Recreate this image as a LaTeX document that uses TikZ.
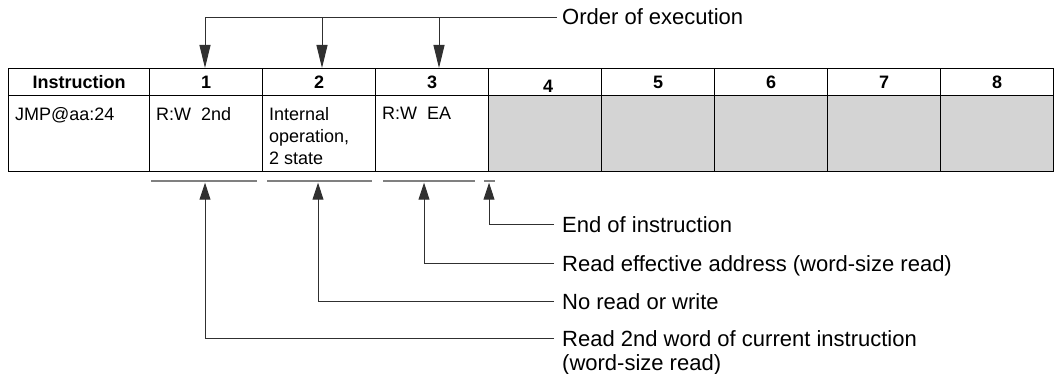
\documentclass[tikz,border=0pt]{standalone}
\usepackage{fontspec}
\setmainfont{Liberation Sans}
\usetikzlibrary{arrows.meta}
\definecolor{shade}{HTML}{D4D4D4}
\definecolor{segcol}{HTML}{808080}
\definecolor{conncol}{HTML}{303030}
\begin{document}
\begin{tikzpicture}[x=1pt,y=-1pt,
  cell/.style={draw=black, line width=1.2pt, inner sep=0pt, anchor=north west,
    minimum width=#1},
  hcell/.style={cell=#1, minimum height=27pt, font=\fontsize{18}{22}\selectfont\bfseries},
  dcell/.style={cell=#1, minimum height=76pt},
  gcell/.style={dcell=#1, fill=shade},
  dtxt/.style={inner sep=0pt, anchor=north west, align=left, font=\fontsize{18}{22}\selectfont},
  lbl/.style={inner sep=0pt, font=\fontsize{22}{24}\selectfont},
  conn/.style={draw=conncol, line width=1pt},
  arrT/.style={conn, -{Triangle[length=23pt,width=11pt]}},
  arrB/.style={conn, -{Triangle[length=17pt,width=11pt]}},
  seg/.style={draw=segcol, line width=1.5pt}
]
\useasboundingbox (0,0) rectangle (1059,374);

% header row
\node[hcell=141pt] (h0) at (8,68) {Instruction};
\node[hcell=113pt] (h1) at (149,68) {1};
\node[hcell=113pt] (h2) at (262,68) {2};
\node[hcell=113pt] (h3) at (375,68) {3};
\node[hcell=113pt] (h4) at (488,68) {};
\node[hcell=113pt] (h5) at (601,68) {5};
\node[hcell=113pt] (h6) at (714,68) {6};
\node[hcell=113pt] (h7) at (827,68) {7};
\node[hcell=113pt] (h8) at (940,68) {8};
\node[inner sep=0pt, font=\fontsize{18}{22}\selectfont\bfseries] (h4t) at ([xshift=3pt,yshift=-4pt]h4.center) {4};

% data row
\node[dcell=141pt] (d0) at (8,95) {};
\node[dcell=113pt] (d1) at (149,95) {};
\node[dcell=113pt] (d2) at (262,95) {};
\node[dcell=113pt] (d3) at (375,95) {};
\node[gcell=113pt] (d4) at (488,95) {};
\node[gcell=113pt] (d5) at (601,95) {};
\node[gcell=113pt] (d6) at (714,95) {};
\node[gcell=113pt] (d7) at (827,95) {};
\node[gcell=113pt] (d8) at (940,95) {};

\node[dtxt] (t0) at ([xshift=7pt,yshift=-12pt]d0.north west) {JMP@aa:24};
\node[dtxt] (t1) at ([xshift=7pt,yshift=-12pt]d1.north west) {R:W\ \ 2nd};
\node[dtxt] (t2) at ([xshift=7pt,yshift=-12pt]d2.north west) {Internal\\operation,\\2 state};
\node[dtxt] (t3) at ([xshift=7pt,yshift=-12pt]d3.north west) {R:W\ \ EA};

% order of execution
\node[lbl, anchor=base west] (ord) at (562,25) {Order of execution};
\coordinate (o0) at (557,17.3);
\coordinate (o1) at (205,17.3);
\coordinate (o2) at (322,17.3);
\coordinate (o3) at (439,17.3);
\draw[conn] (o0) -- (o1);
\draw[arrT] (o1) -- (o1 |- h1.north);
\draw[arrT] (o2) -- (o2 |- h2.north);
\draw[arrT] (o3) -- (o3 |- h3.north);

% gray state segments
\draw[seg] (151,181) -- (257,181);
\draw[seg] (267,181) -- (372,181);
\draw[seg] (383,181) -- (475,181);
\draw[seg] (484,181) -- (495,181);

% bottom labels
\node[lbl, anchor=base west] (l4) at (562,232) {End of instruction};
\node[lbl, anchor=base west] (l3) at (562,271) {Read effective address (word-size read)};
\node[lbl, anchor=base west] (l2) at (562,309) {No read or write};
\node[lbl, anchor=north west, align=left] (l1) at (562,330) {Read 2nd word of current instruction\\(word-size read)};

\coordinate (b1) at (205,182.7);
\coordinate (b2) at (318,182.7);
\coordinate (b3) at (424,182.7);
\coordinate (b4) at (489,182.7);
\coordinate (c4) at (554,224);
\coordinate (c3) at (554,263);
\coordinate (c2) at (554,301);
\coordinate (c1) at (554,338);
\draw[arrB] (c4) -| (b4);
\draw[arrB] (c3) -| (b3);
\draw[arrB] (c2) -| (b2);
\draw[arrB] (c1) -| (b1);
\end{tikzpicture}
\end{document}
